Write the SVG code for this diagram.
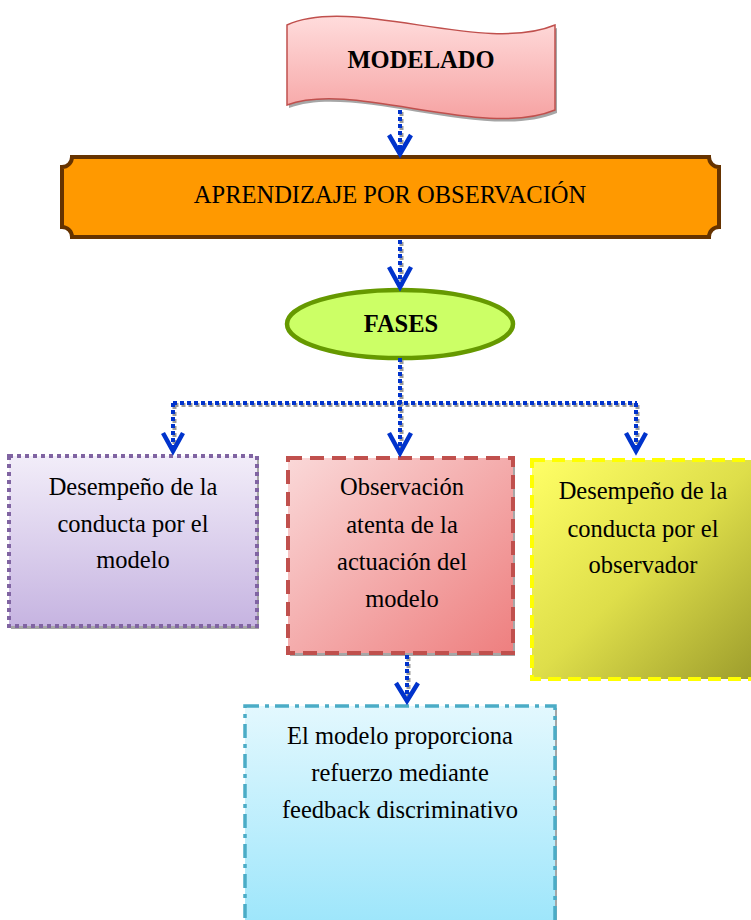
<svg xmlns="http://www.w3.org/2000/svg" width="751" height="920" viewBox="0 0 751 920">
<defs>
<linearGradient id="gPink" x1="0" y1="0" x2="0" y2="1"><stop offset="0" stop-color="#ffdcdc"/><stop offset="1" stop-color="#f6a3a3"/></linearGradient>
<linearGradient id="gPurple" x1="0" y1="0" x2="0" y2="1"><stop offset="0" stop-color="#f2edf9"/><stop offset="1" stop-color="#c6b4e1"/></linearGradient>
<linearGradient id="gRed" x1="0" y1="0" x2="1" y2="1"><stop offset="0" stop-color="#fad8d8"/><stop offset="1" stop-color="#ee7f7f"/></linearGradient>
<linearGradient id="gYellow" x1="0" y1="0" x2="1" y2="1"><stop offset="0" stop-color="#ffff66"/><stop offset="0.5" stop-color="#dede4a"/><stop offset="1" stop-color="#9c9c2c"/></linearGradient>
<linearGradient id="gCyan" x1="0" y1="0" x2="0" y2="1"><stop offset="0" stop-color="#e3f8fe"/><stop offset="1" stop-color="#9ee6fb"/></linearGradient>
</defs>
<style>
text{font-family:'Liberation Serif','Tinos','DejaVu Serif','Times New Roman',serif;font-size:24.5px;fill:#000;text-anchor:middle}
.b{font-weight:bold}
.sh{fill:#a6a6a6}
.lnS{fill:none;stroke:#9a9a9a;stroke-width:4;stroke-dasharray:4 3}
.ln{fill:none;stroke:#0033cc;stroke-width:4;stroke-dasharray:4 3}
.ah{fill:none;stroke:#0033cc;stroke-width:4.5;stroke-linejoin:miter}
</style>

<g id="modelado">
<path d="M289,28 C355,-2 485,58 557,28 L557,113 C485,143 355,83 289,108 Z" class="sh"/>
<path d="M287,25 C353,-5 483,55 555,25 L555,110 C483,140 353,80 287,105 Z" fill="url(#gPink)" stroke="#c0504d" stroke-width="1.5"/>
<text x="421" y="68" class="b" font-family="Liberation Serif, serif">MODELADO</text>
</g>

<g id="aprendizaje">
<path d="M72,157 H709 A10,10 0 0 0 719,167 V227 A10,10 0 0 0 709,237 H72 A10,10 0 0 0 62,227 V167 A10,10 0 0 0 72,157 Z" fill="#ff9900" stroke="#663300" stroke-width="4"/>
<text x="390" y="203" font-family="Liberation Serif, serif">APRENDIZAJE POR OBSERVACIÓN</text>
</g>

<g id="fases">
<ellipse cx="400" cy="324" rx="113" ry="34" fill="#ccff66" stroke="#669900" stroke-width="4.5"/>
<text x="401" y="332" class="b" font-family="Liberation Serif, serif">FASES</text>
</g>

<g id="desempeno-modelo">
<rect x="11" y="458" width="248" height="171" class="sh"/>
<rect x="9" y="456" width="248" height="170" fill="url(#gPurple)" stroke="#8064a2" stroke-width="4" stroke-dasharray="4 4"/>
<text x="133" y="495" font-family="Liberation Serif, serif">Desempeño de la</text>
<text x="133" y="532" font-family="Liberation Serif, serif">conducta por el</text>
<text x="133" y="568" font-family="Liberation Serif, serif">modelo</text>
</g>

<g id="observacion">
<rect x="290" y="460" width="225" height="196" class="sh"/>
<rect x="288" y="458" width="225" height="195" fill="url(#gRed)" stroke="#c0504d" stroke-width="4" stroke-dasharray="14 8"/>
<text x="402" y="495" font-family="Liberation Serif, serif">Observación</text>
<text x="402" y="533" font-family="Liberation Serif, serif">atenta de la</text>
<text x="402" y="570" font-family="Liberation Serif, serif">actuación del</text>
<text x="402" y="607" font-family="Liberation Serif, serif">modelo</text>
</g>

<g id="desempeno-observador">
<rect x="532" y="460" width="225" height="219" fill="url(#gYellow)" stroke="#ffff00" stroke-width="4" stroke-dasharray="13 7"/>
<text x="643" y="499" font-family="Liberation Serif, serif">Desempeño de la</text>
<text x="643" y="537" font-family="Liberation Serif, serif">conducta por el</text>
<text x="643" y="573" font-family="Liberation Serif, serif">observador</text>
</g>

<g id="feedback">
<rect x="247" y="708" width="310" height="216" class="sh"/>
<rect x="245" y="706" width="310" height="216" fill="url(#gCyan)" stroke="#4bacc6" stroke-width="3.5" stroke-dasharray="14 6 4 6"/>
<text x="400" y="744" font-family="Liberation Serif, serif">El modelo proporciona</text>
<text x="400" y="781" font-family="Liberation Serif, serif">refuerzo mediante</text>
<text x="400" y="818" font-family="Liberation Serif, serif">feedback discriminativo</text>
</g>

<g id="connectors">
<path class="lnS" d="M401.5,112 V152 M401.5,242 V286 M401.5,360 V450 M174.5,405 H638 M174.5,405 V448 M637.5,405 V448 M408.5,657 V698"/>
<path class="ln" d="M400,110 V152 M400,240 V286 M400,358 V450 M173,403 H637 M173,403 V448 M636,403 V448 M407,655 V698"/>
<path class="ah" d="M389,135 L400,154 L411,135 M389,267 L400,287 L411,267 M389,433 L400,453 L411,433 M163,433 L173,451 L183,433 M626,433 L636,451 L646,433 M396,683 L407,701 L418,683"/>
</g>
</svg>
